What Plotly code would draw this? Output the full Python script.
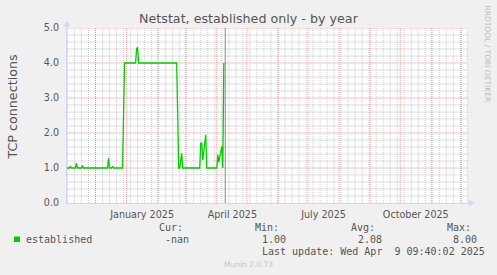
import plotly.graph_objects as go
import pandas as pd

# ---------------- data ----------------
dates = [
    "2024-11-02", "2024-11-05", "2024-11-06", "2024-11-07",
    "2024-11-11", "2024-11-12", "2024-11-13",
    "2024-11-17", "2024-11-18", "2024-11-19",
    "2024-12-13", "2024-12-14", "2024-12-15",
    "2024-12-17", "2024-12-18", "2024-12-19",
    "2024-12-28", "2024-12-30",
    "2025-01-10", "2025-01-11", "2025-01-12", "2025-01-13",
    "2025-02-20", "2025-02-22",
    "2025-02-23", "2025-02-25", "2025-02-26",
    "2025-03-15", "2025-03-16", "2025-03-17", "2025-03-18", "2025-03-21", "2025-03-22",
    "2025-04-01", "2025-04-02", "2025-04-03", "2025-04-06", "2025-04-07", "2025-04-08",
]
values = [
    1.00, 1.00, 1.05, 1.00,
    1.00, 1.14, 1.00,
    1.00, 1.07, 1.00,
    1.00, 1.28, 1.00,
    1.00, 1.05, 1.00,
    1.00, 4.00,
    4.00, 4.40, 4.45, 4.00,
    4.00, 1.00,
    1.00, 1.42, 1.00,
    1.00, 1.71, 1.71, 1.23, 1.95, 1.00,
    1.00, 1.38, 1.17, 1.62, 1.00, 4.00,
]
last_update = "2025-04-09 09:40:02"
range_start = "2024-11-02 14:00"
range_end = "2025-12-07 14:00"

label_months = ["2025-01-01", "2025-04-01", "2025-07-01", "2025-10-01"]
label_texts = ["January 2025", "April 2025", "July 2025", "October 2025"]
y_major = [0, 1, 2, 3, 4, 5]
y_minor_step = 0.2

title = "Netstat, established only - by year"
y_title = "TCP connections"
series_name = "established"
stat_headers = ["Cur:", "Min:", "Avg:", "Max:"]
stat_values = ["-nan", "1.00", "2.08", "8.00"]
last_update_text = "Last update: Wed Apr\u00a0 9 09:40:02 2025"
watermark = "RRDTOOL / TOBI OETIKER"
footer = "Munin 2.0.73"

# ---------------- style ----------------
W, H = 497, 275
L, R, T, B = 67, 468, 28, 203
PW, PH = R - L, B - T

def pxx(x):
    return (x - L) / PW

def pxy(y):
    return (B - y) / PH

GREEN = "#00CC00"
FONT_COL = "#555555"
AXIS_COL = "#CFD6F8"
MGRID = "rgba(235,80,80,0.5)"
GRID = "rgba(130,130,130,0.38)"
MGRID_H = "#F5C2C2"
GRID_H = "#DEDEDE"
DOT = "1px,1px"
SANS = "DejaVu Sans"
MONO = "DejaVu Sans Mono"

month_starts = pd.date_range("2024-11-01", "2025-12-01", freq="MS")
week_starts = pd.date_range("2024-11-03", "2025-12-08", freq="W-SUN")
label_pos = [pd.Timestamp(m) + pd.Timedelta(hours=15.5 * 24) for m in label_months]
y_minor_vals = [round(i * y_minor_step, 1) for i in range(1, 25) if (i % 5) != 0]

fig = go.Figure()
fig.add_trace(go.Scatter(
    x=pd.to_datetime(dates), y=values, mode="lines",
    line=dict(color=GREEN, width=1.3), hoverinfo="skip", showlegend=False,
))

fig.update_layout(
    width=W, height=H,
    margin=dict(l=L, r=W - R, t=T, b=H - B, pad=0),
    paper_bgcolor="#F0F0F0", plot_bgcolor="#FFFFFF",
    showlegend=False,
    xaxis=dict(
        type="date", range=[range_start, range_end],
        tickmode="array", tickvals=label_pos, ticktext=label_texts,
        ticks="", showgrid=False, zeroline=False,
        showline=True, linecolor=AXIS_COL, linewidth=1,
        tickfont=dict(family=SANS, size=9.6, color=FONT_COL),
        ticklabelstandoff=2, fixedrange=True,
    ),
    yaxis=dict(
        range=[0, 5], tickmode="array", tickvals=y_major, tickformat=".1f",
        ticks="", showgrid=False, zeroline=False,
        showline=True, linecolor=AXIS_COL, linewidth=1,
        tickfont=dict(family=SANS, size=9.6, color=FONT_COL),
        ticklabelstandoff=5, fixedrange=True,
    ),
)

# grid: minor (gray) first, then major (red)
for v in y_minor_vals:
    fig.add_shape(type="line", xref="x domain", yref="y", x0=0, x1=1, y0=v, y1=v,
                  line=dict(color=GRID_H, width=1), layer="below")
for w in week_starts:
    fig.add_shape(type="line", xref="x", yref="y domain", x0=w, x1=w, y0=0, y1=1,
                  line=dict(color=GRID, width=1, dash=DOT), layer="below")
for v in y_major[1:]:
    fig.add_shape(type="line", xref="x domain", yref="y", x0=0, x1=1, y0=v, y1=v,
                  line=dict(color=MGRID_H, width=1), layer="below")
for m in month_starts:
    fig.add_shape(type="line", xref="x", yref="y domain", x0=m, x1=m, y0=0, y1=1,
                  line=dict(color=MGRID, width=1, dash=DOT), layer="below")

# last-update rule
fig.add_shape(type="line", xref="x", yref="y domain", x0=last_update, x1=last_update,
              y0=0, y1=1, line=dict(color="#888888", width=1), layer="above")

# axis arrows and extensions
fig.add_shape(type="line", xref="paper", yref="paper", x0=0, x1=0,
              y0=1, y1=pxy(25), line=dict(color=AXIS_COL, width=1))
fig.add_shape(type="path", xref="paper", yref="paper",
              path=f"M {pxx(63.5)},{pxy(26.5)} L {pxx(70.5)},{pxy(26.5)} L {pxx(67)},{pxy(21)} Z",
              fillcolor=AXIS_COL, line=dict(width=0))
fig.add_shape(type="line", xref="paper", yref="paper", x0=1, x1=pxx(470),
              y0=0, y1=0, line=dict(color=AXIS_COL, width=1))
fig.add_shape(type="path", xref="paper", yref="paper",
              path=f"M {pxx(469)},{pxy(199.5)} L {pxx(469)},{pxy(206.5)} L {pxx(474.5)},{pxy(203)} Z",
              fillcolor=AXIS_COL, line=dict(width=0))

# legend swatch
fig.add_shape(type="rect", xref="paper", yref="paper",
              x0=pxx(14), x1=pxx(20), y0=pxy(242), y1=pxy(236.5),
              fillcolor=GREEN, line=dict(width=0))

def ann(text, x, y, size, color=FONT_COL, family=SANS, xanchor="left", angle=0):
    fig.add_annotation(text=text, x=pxx(x), y=pxy(y), xref="paper", yref="paper",
                       xanchor=xanchor, yanchor="middle", showarrow=False,
                       borderpad=0, textangle=angle,
                       font=dict(family=family, size=size, color=color))

ann(title, 248.5, 18.5, 12.7, xanchor="center")
ann(y_title, 11.5, 107, 12.7, xanchor="center", angle=-90)
ann(watermark, 487, 53.5, 7.5, color="#BBBBBB", xanchor="center", angle=90)

ann(series_name, 25.4, 239.3, 10, family=MONO)
header_x = [157.7, 254.4, 350.4, 446.1]
for hx, h, v in zip(header_x, stat_headers, stat_values):
    ann(h, hx, 227.7, 10, family=MONO)
    ann(v, hx + 6.1, 239.3, 10, family=MONO)
ann(last_update_text, 260.6, 251.7, 10, family=MONO)
ann(footer, 248, 264.3, 7.5, color="#C4C4C4", xanchor="center")

fig.write_html("out.html", config=dict(displayModeBar=False))
